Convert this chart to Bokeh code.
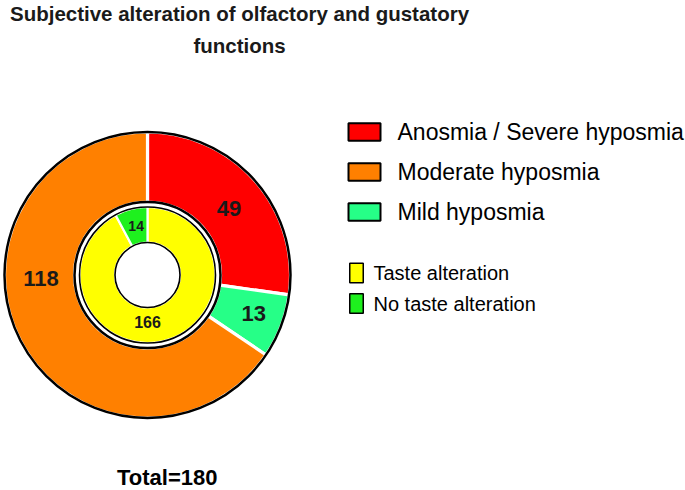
import math
from bokeh.plotting import figure
from bokeh.models import Range1d, ColumnDataSource
from bokeh.core.properties import value
from bokeh.embed import file_html
from bokeh.resources import INLINE

# ---------------- data ----------------
title_lines = ["Subjective alteration of olfactory and gustatory", "functions"]
outer_labels = ["Anosmia / Severe hyposmia", "Mild hyposmia", "Moderate hyposmia"]
outer_values = [49, 13, 118]
outer_colors = ["#FF0000", "#26FF87", "#FF8000"]
inner_labels = ["Taste alteration", "No taste alteration"]
inner_values = [166, 14]
inner_colors = ["#FFFF00", "#1EF01E"]
legend1_order = ["Anosmia / Severe hyposmia", "Moderate hyposmia", "Mild hyposmia"]
total_text = "Total=180"

# ---------------- layout ----------------
W, H = 685, 490
def X(x):  # reference pixel -> data
    return x
def Y(y):
    return H - y

cx, cy = X(147), Y(274.5)
R_OUT, R_OUT_IN = 143, 73
R_IN, R_HOLE = 68, 32.5

p = figure(width=W, height=H, x_range=Range1d(0, W), y_range=Range1d(0, H),
           output_backend="svg", toolbar_location=None,
           x_axis_location=None, y_axis_location=None, min_border=0)
p.grid.visible = False
p.outline_line_color = None

def ring(values, colors, r0, r1, sep_w):
    total = sum(values)
    starts, ends = [], []
    acc = 0
    for v in values:
        starts.append(math.pi / 2 - 2 * math.pi * acc / total)
        acc += v
        ends.append(math.pi / 2 - 2 * math.pi * acc / total)
    src = ColumnDataSource(dict(x=[cx] * len(values), y=[cy] * len(values),
                                s=starts, e=ends, c=colors))
    p.annular_wedge(x="x", y="y", inner_radius=r0, outer_radius=r1,
                    start_angle="s", end_angle="e", direction="clock",
                    fill_color="c", line_color="white", line_width=sep_w, source=src)

ring(outer_values, outer_colors, R_OUT_IN, R_OUT, 3.2)
ring(inner_values, inner_colors, R_HOLE, R_IN, 2.2)

# black outlines
p.circle(x=[cx], y=[cy], radius=R_OUT, fill_color=None, line_color="black", line_width=2.5)
p.circle(x=[cx], y=[cy], radius=R_OUT_IN, fill_color=None, line_color="black", line_width=2.5)
p.circle(x=[cx], y=[cy], radius=R_IN, fill_color=None, line_color="black", line_width=1.6)
p.circle(x=[cx], y=[cy], radius=R_HOLE, fill_color="white", line_color="black", line_width=1.6)

# value labels (angle in degrees, radius) - layout only
outer_lab_pos = [(39, 105), (-20, 113), (182, 106.5)]
inner_lab_pos = [(-90, 46.5), (103, 50.5)]
for vals, pos, size in ((outer_values, outer_lab_pos, "22px"), (inner_values, inner_lab_pos, None)):
    for v, (a, r) in zip(vals, pos):
        fs = size if size else ("16px" if v > 50 else "14px")
        p.text(x=[cx + r * math.cos(math.radians(a))], y=[cy + r * math.sin(math.radians(a))],
               text=[str(v)], text_align="center", text_baseline="middle",
               text_font=value("Liberation Sans"), text_font_style="bold",
               text_font_size=fs, text_color="#1a1a1a")

# title
for txt, ym in zip(title_lines, (13, 45)):
    p.text(x=[X(239)], y=[Y(ym)], text=[txt], text_align="center",
           text_baseline="middle", text_font=value("Liberation Sans"),
           text_font_style="bold", text_font_size="20.5px", text_color="#1a1a1a")

# legend 1 (outer ring)
col_of = dict(zip(outer_labels, outer_colors))
for i, lab in enumerate(legend1_order):
    yc = Y(131.5 + 40 * i)
    p.rect(x=[X(364)], y=[yc], width=32, height=17.5, fill_color=col_of[lab],
           line_color="black", line_width=2)
    p.text(x=[X(397)], y=[yc], text=[lab], text_align="left", text_baseline="middle",
           text_font=value("Liberation Sans"), text_font_size="23px", text_color="black")

# legend 2 (inner ring)
for i, (lab, c) in enumerate(zip(inner_labels, inner_colors)):
    yc = Y(272.5 + 30.5 * i)
    p.rect(x=[X(356)], y=[yc], width=13.5, height=19.5, fill_color=c,
           line_color="black", line_width=1.5)
    p.text(x=[X(373)], y=[yc], text=[lab], text_align="left", text_baseline="middle",
           text_font=value("Liberation Sans"), text_font_size="20px", text_color="black")

# total
p.text(x=[X(166.7)], y=[Y(477)], text=[total_text], text_align="center", text_baseline="middle",
       text_font=value("Liberation Sans"), text_font_style="bold", text_font_size="22px",
       text_color="black")

open("out.html", "w").write(file_html(p, INLINE))
